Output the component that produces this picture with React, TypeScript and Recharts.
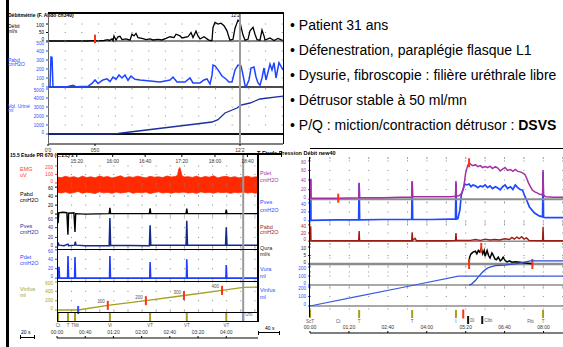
import React from 'react';
import { ComposedChart, Line, Area, Scatter, XAxis, YAxis, CartesianGrid, ReferenceLine } from 'recharts';

type Pt = [number, number | null];

// ---------- débitmétrie (top left), t = record seconds ----------
const flowPts: Pt[] = [
  [0, 0], [40, 0], [44, 2], [50, 1], [56, 3], [60, 8], [61, 2], [64, 12], [65, 2], [66, 30], [68, 5], [70, 25],
  [72, 28], [74, 8], [78, 12], [82, 5], [84, 40], [86, 30], [88, 45], [90, 20], [94, 15], [98, 8], [102, 12],
  [105, 6], [110, 10], [114, 6], [118, 15], [122, 25], [126, 20], [128, 40], [132, 30], [134, 18], [140, 25],
  [143, 50], [145, 20], [148, 58], [150, 30], [152, 12], [156, 25], [160, 8], [162, 3], [164, 2], [165, 80],
  [167, 110], [170, 100], [173, 105], [176, 90], [179, 60], [181, 20], [182, 5], [185, 10], [187, 75], [190, 123],
  [192, 110], [194, 60], [195, 35], [197, 5], [200, 10], [202, 60], [205, 80], [207, 40], [209, 8], [212, 5],
  [214, 65], [216, 30], [217, 5], [222, 18], [226, 3], [230, 15], [235, 2],
];
const topPabdPts: Pt[] = [
  [0, 0], [2, 0], [3, 333], [4, 330], [5, 0], [20, 5], [25, 20], [28, 3], [40, 8], [44, 40], [47, 78], [50, 40],
  [55, 78], [59, 90], [62, 60], [65, 111], [68, 85], [71, 133], [74, 100], [77, 133], [80, 75], [83, 122], [87, 85],
  [92, 78], [102, 67], [112, 55], [122, 78], [125, 111], [129, 55], [137, 55], [142, 100], [145, 45], [152, 45],
  [156, 78], [159, 89], [162, 33], [164, 130], [165, 244], [167, 235], [170, 190], [174, 122], [178, 89], [181, 55],
  [184, 55], [187, 189], [190, 244], [193, 235], [195, 133], [197, 20], [198, 0], [201, 78], [203, 211], [206, 222],
  [208, 111], [210, 45], [212, 20], [214, 100], [216, 211], [218, 78], [222, 255], [224, 190], [226, 270],
  [228, 100], [231, 270], [235, 190],
];
const volPts: Pt[] = [
  [0, 0], [60, 0], [70, 60], [82, 222], [115, 667], [148, 1111], [164, 1333], [170, 1600], [177, 2333],
  [189, 2889], [193, 3222], [202, 3444], [212, 3889], [235, 4200],
];
const topMarks: Pt[] = [[47, 12], [192, 132]];
const topCursor = 192;
const topTimeTicks = [0, 47, 192];
const topTimeLabels = ["0'0", '050', "12'2"];

// ---------- étude PR (bottom left), t = seconds ----------
const emgBand: [number, number, number][] = [
  [0, -110, 70], [6, -118, 62], [12, -105, 78], [18, -122, 66], [24, -112, 74], [30, -100, 58], [36, -120, 80],
  [42, -108, 64], [48, -115, 72], [54, -124, 60], [60, -104, 82], [66, -116, 68], [72, -110, 76], [78, -121, 58],
  [84, -106, 70], [90, -118, 84], [96, -112, 62], [102, -102, 74], [108, -120, 66], [114, -110, 80], [120, -116, 70],
  [126, -106, 60], [132, -124, 78], [138, -112, 68], [144, -104, 72], [150, -118, 64], [156, -110, 82],
  [162, -120, 70], [168, -108, 76], [171, -112, 92], [172.5, -114, 160], [174, -115, 182], [175.5, -110, 150],
  [177, -110, 90], [180, -106, 70], [186, -118, 74], [192, -112, 66], [198, -122, 80], [204, -104, 62],
  [210, -116, 76], [216, -110, 68], [222, -120, 84], [228, -106, 60], [234, -114, 72], [240, -108, 78],
  [246, -122, 64], [252, -110, 74], [258, -116, 60], [264, -104, 70], [270, -118, 80], [276, -112, 66],
  [282, -120, 72], [285, -110, 68],
];
const blPabdPts: Pt[] = [
  [0, 3], [1, 3], [1.5, -20], [2.5, 3], [8, 4], [14, 3], [15.5, -46], [16.5, 2], [24, 3], [25.5, -40], [26.5, 1],
  [40, 0], [74, 1], [75, 14], [76, 1], [131, 1], [132, 13], [133, 1], [183, 1], [184, 12], [185, 1], [239, 1],
  [240, 10], [241, 1], [285, 1],
];
const blPvesPts: Pt[] = [
  [0, 3], [1, 3], [2, 7], [3, 4], [10, 3], [15.5, 6], [16.5, 3], [25, 4], [26, 11], [27, 4], [40, 3], [74, 3],
  [75, 60], [76, 4], [131, 3], [132, 45], [133, 4], [183, 4], [184, 54], [185, 4], [239, 4], [240, 41], [241, 4],
  [285, 4],
];
const blPdetPts: Pt[] = [
  [0, 0], [2, 0], [2.8, 24], [3.6, 0], [15, 0], [15.6, 47], [16.4, 0], [25, 0], [25.5, 45], [26.3, 0], [74.5, 0],
  [75, 47], [75.8, 0], [131.5, 0], [132, 34], [132.8, 0], [183.5, 0], [184, 40], [184.8, 0], [239.5, 0], [240, 28],
  [240.8, 0], [285, 0],
];
const infusPts: Pt[] = [[0, 0], [30, 0], [72, 100], [126, 200], [180, 310], [234, 420], [264, 485], [285, 490]];
const infusMarks: Pt[] = [[72, 100], [126, 200], [180, 310], [234, 420]];
const infusMarkLabels = ['100', '200', '300', '400'];
const infusStart: Pt[] = [[30, 0]];
const blEvents: Pt[] = [[1.5, 0.5], [15.6, 0.5], [25.5, 0.5], [75, 0.5], [132, 0.5], [184, 0.5], [240, 0.5]];
const blEventLabels = ['Ct', 'T', 'TMi', 'Vi', 'VT', 'VT', 'VT'];
const blUro: Pt[] = [[264, 0.5]];
const blCursor = 264;
const blTimeTicks = [0, 40, 80, 120, 160, 200, 240];
const blTimeLabels = ['00:00', '00:40', '01:20', '02:00', '02:40', '03:20', '04:00'];
const blClockTicks = [28, 79, 125, 177, 224, 270];
const blClockLabels = ['15:20', '16:00', '16:40', '17:20', '18:00', '18:40'];

// ---------- pression débit (bottom right), t = seconds ----------
const brPdetPts: Pt[] = [
  [0, 2], [0.5, 40], [1.5, 40], [2, 2], [30, 2], [58, 2], [100, 3], [101, 34], [102, 3], [150, 3], [185, 4],
  [209, 4], [210, 38], [211, 5], [250, 5], [288, 5], [299, 6], [300, 38], [301, 6], [306, 7], [312, 12], [316, 25],
  [320, 55], [324, 70], [327, 76], [331, 72], [335, 70], [340, 72], [345, 68], [350, 70], [355, 66], [360, 68],
  [365, 66], [370, 69], [375, 64], [381, 68], [386, 65], [391, 59], [396, 63], [401, 66], [406, 60], [412, 62],
  [417, 58], [422, 62], [427, 58], [432, 57], [437, 55], [442, 51], [446, 42], [449, 34], [453, 26], [457, 19],
  [462, 15], [467, 13], [472, 10], [478, 9], [479, 61], [480, 9], [484, 5], [500, 4], [520, 4],
];
const brPvesPts: Pt[] = [
  [0, 1], [0.5, 92], [1.5, 92], [2, 1], [50, 2], [100, 2], [101, 84], [102, 2], [150, 3], [209, 3], [210, 87],
  [211, 3], [250, 3], [288, 4], [299, 4], [300, 84], [301, 4], [304, 5], [308, 24], [311, 58], [318, 82], [322, 80],
  [327, 82], [331, 76], [335, 80], [340, 78], [345, 74], [350, 78], [355, 76], [360, 80], [365, 74], [370, 78],
  [375, 72], [381, 76], [386, 73], [391, 69], [396, 76], [401, 80], [406, 72], [412, 76], [417, 70], [422, 80],
  [427, 74], [432, 70], [437, 68], [441, 56], [445, 47], [451, 31], [461, 18], [471, 11], [478, 9], [479, 109],
  [480, 8], [484, 7], [520, 7],
];
const brPabdPts: Pt[] = [
  [0, 1], [0.5, 35], [1.5, 35], [2, 1], [100, 1], [101, 25], [102, 1], [209, 1], [210, 22], [211, 2], [216, 7],
  [219, 1], [280, 1], [299, 2], [300, 20], [301, 2], [330, 2], [340, 4], [350, 2], [360, 5], [370, 3], [380, 4],
  [390, 3], [400, 6], [410, 4], [415, 9], [420, 5], [425, 10], [430, 6], [435, 11], [440, 5], [445, 8], [450, 2],
  [478, 1], [479, 35], [480, 1], [520, 1],
];
const quraPts: Pt[] = [
  [327, 0], [328, 4], [331, 6], [335, 7], [340, 7.5], [343, 6], [346, 8], [349, 7], [352, 9.5], [355, 6], [358, 8],
  [360, 4.5], [364, 8], [367, 5], [370, 3.5], [374, 6.5], [377, 5], [380, 3], [383, 2.5], [387, 4], [391, 1.8],
  [394, 2.5], [397, 4], [401, 2], [405, 1.2], [410, 1.8], [415, 1], [422, 1.3], [432, 1], [442, 0.6], [453, 0.3],
  [457, 0],
];
const vuraPts: Pt[] = [
  [327, 0], [332, 10], [336, 30], [340, 50], [345, 85], [350, 115], [355, 145], [360, 170], [365, 188], [370, 200],
  [381, 215], [401, 222], [422, 235], [440, 255], [453, 267], [520, 267],
];
const vinfPts: Pt[] = [[0, 0], [93, 95], [200, 205], [305, 314], [520, 314]];
const brPdetMarks: Pt[] = [[58, 2], [327, 76]];
const quraMarks: Pt[] = [[327, 0], [352, 9.5], [457, 0]];
const brEvents: Pt[] = [[0, 0.5], [101, 0.5], [210, 0.5], [300, 0.5], [479, 0.5]];
const brEventLabels = ['ScT', 'T', 'T', 'I', 'T'];
const brRed: Pt[] = [[315, 0.5]];
const brBlack: Pt[] = [[325, -0.1], [354, -0.1]];
const brBlackLabels = ['Di', 'Clbt'];
const brTextEvents: Pt[] = [[58, 0.5], [453, 0.5]];
const brTextLabels = ['Ct', 'Fbt'];
const brTimeTicks = [0, 80, 160, 240, 320, 400, 480];
const brTimeLabels = ['00:00', '01:20', '02:40', '04:00', '05:20', '06:40', '08:00'];

const bullets = [
  'Patient 31 ans',
  'Défenestration, paraplégie flasque L1',
  'Dysurie, fibroscopie : filière uréthrale libre',
  'Détrusor stable à 50 ml/mn',
];

const AX = 24;
const toRows = (pts: Pt[], labels?: string[]) => pts.map(([t, v], i) => ({ t, v, lab: labels ? labels[i] : undefined }));

interface MarkSet { pts: Pt[]; color: string; h: number; labels?: string[]; lx?: number; ly?: number; anchor?: 'start' | 'end' | 'middle' }
interface LineSet { pts: Pt[]; color: string; width?: number }
interface TraceProps {
  x: number; y: number; w: number; h: number;
  xd: [number, number]; yd: [number, number];
  ticks?: number[]; tickColor?: string; gap?: number;
  zero?: string; zeroW?: number;
  lines?: LineSet[];
  band?: { pts: [number, number, number][]; color: string };
  marks?: MarkSet[];
  cursor?: number;
}

const markShape = (m: MarkSet) => (p: any) => (
  <g>
    {m.h > 0 ? <rect x={p.cx - 1} y={p.cy - m.h / 2} width={2} height={m.h} fill={m.color} /> : null}
    {p.payload && p.payload.lab ? (
      <text x={p.cx + (m.lx ?? 0)} y={p.cy + (m.ly ?? 0)} fontSize={4.5} fill="#555" textAnchor={m.anchor ?? 'middle'}>
        {p.payload.lab}
      </text>
    ) : null}
  </g>
);

// tick labels at the panel edges are nudged inwards, as the recorder prints them
const edgeTick = (color: string, ticks: number[]) => (p: any) => {
  const v = p.payload.value;
  const dy = v === ticks[0] ? -1.5 : v === ticks[ticks.length - 1] ? 1.5 : 0;
  return (
    <text x={p.x} y={p.y + dy} dy="0.35em" textAnchor="end" fontSize={4.6} fill={color}>
      {v}
    </text>
  );
};

function Trace(p: TraceProps) {
  const ax = p.ticks ? AX : 0;
  const edge = [{ t: p.xd[0], v: p.yd[0] }, { t: p.xd[1], v: p.yd[1] }];
  return (
    <div style={{ position: 'absolute', left: p.x - ax, top: p.y }}>
      <ComposedChart width={p.w + ax} height={p.h} margin={{ top: 0, right: 0, bottom: 0, left: 0 }}>
        <XAxis type="number" dataKey="t" domain={p.xd} hide />
        <YAxis
          type="number"
          domain={p.yd}
          hide={!p.ticks}
          width={ax}
          ticks={p.ticks}
          interval={0}
          axisLine={false}
          tickSize={2}
          tickLine={{ stroke: p.tickColor }}
          tick={p.ticks ? edgeTick(p.tickColor ?? '#000', p.ticks) : false}
        />
        {p.gap && p.ticks ? <CartesianGrid vertical={false} stroke="#888" strokeDasharray={`1 ${p.gap - 1}`} /> : null}
        {p.zero ? <ReferenceLine y={0} stroke={p.zero} strokeWidth={p.zeroW ?? 1} /> : null}
        {p.cursor !== undefined ? <ReferenceLine x={p.cursor} stroke="#9a9a9a" strokeWidth={2} /> : null}
        <Line data={edge} dataKey="v" stroke="none" dot={false} isAnimationActive={false} />
        {p.band ? (
          <Area
            data={p.band.pts.map(([t, lo, hi]) => ({ t, r: [lo, hi] }))}
            dataKey="r"
            stroke={p.band.color}
            strokeWidth={0.8}
            fill={p.band.color}
            fillOpacity={1}
            isAnimationActive={false}
          />
        ) : null}
        {(p.lines ?? []).map((l, i) => (
          <Line key={`l${i}`} data={toRows(l.pts)} dataKey="v" stroke={l.color} strokeWidth={l.width ?? 1.3}
            dot={false} isAnimationActive={false} />
        ))}
        {(p.marks ?? []).map((m, i) => (
          <Scatter key={`m${i}`} data={toRows(m.pts, m.labels)} dataKey="v" shape={markShape(m)} isAnimationActive={false} />
        ))}
      </ComposedChart>
    </div>
  );
}

function TimeAxis({ x, y, w, xd, ticks, labels, top, line = true }: {
  x: number; y: number; w: number; xd: [number, number]; ticks: number[]; labels: string[]; top?: boolean; line?: boolean;
}) {
  const bandH = 9;
  const rows = ticks.map((t) => ({ t, v: 0 }));
  return (
    <div style={{ position: 'absolute', left: x, top: top ? y - bandH : y - 1 }}>
      <ComposedChart width={w} height={bandH + 1} margin={{ top: 0, right: 0, bottom: 0, left: 0 }}>
        <XAxis
          type="number"
          dataKey="t"
          domain={xd}
          ticks={ticks}
          interval={0}
          orientation={top ? 'top' : 'bottom'}
          height={bandH}
          axisLine={line ? { stroke: '#000', strokeWidth: 1.2 } : false}
          tickLine={{ stroke: '#000' }}
          tickSize={2}
          tick={{ fontSize: 5, fill: '#333' }}
          tickFormatter={(v: number) => labels[ticks.indexOf(v)] ?? ''}
        />
        <YAxis hide domain={[0, 1]} />
        <Line data={rows} dataKey="v" stroke="none" dot={false} isAnimationActive={false} />
      </ComposedChart>
    </div>
  );
}

const Txt = ({ x, y, c = '#000', s = 5, b = false, children }: any) => (
  <div style={{ position: 'absolute', left: x, top: y, color: c, fontSize: s, lineHeight: `${s}px`, fontWeight: b ? 700 : 400, whiteSpace: 'nowrap' }}>
    {children}
  </div>
);
const Label2 = ({ x, y, c, s = 5, gap = 5.5, a, b }: any) => (
  <>
    <Txt x={x} y={y} c={c} s={s}>{a}</Txt>
    <Txt x={x} y={y + gap} c={c} s={s}>{b}</Txt>
  </>
);
const Rule = ({ x, y, w, h, c = '#000' }: any) => (
  <div style={{ position: 'absolute', left: x, top: y, width: w, height: h, background: c }} />
);

const BLUE = '#2d4bff';
const TOP_X: [number, number] = [0, 235];
const BL_X: [number, number] = [0, 285];
const BR_X: [number, number] = [0, 520];

export default function App() {
  return (
    <div style={{ position: 'relative', width: 563, height: 347, overflow: 'hidden', background: '#fff', fontFamily: '"Liberation Sans", Arial, sans-serif' }}>
      <style>{'body{margin:0} .recharts-surface{overflow:visible}'}</style>

      <Rule x={6} y={0} w={2.5} h={347} />

      {/* débitmétrie */}
      <Txt x={8} y={12.5} b>Débitmétrie (F. Abdo ch340)</Txt>
      <Label2 x={8} y={24.2} c="#000" gap={5} a="Débit" b="ml/s" />
      <Label2 x={8} y={57.5} c={BLUE} gap={4.5} a="Pabd" b="cmH2O" />
      <Label2 x={8} y={103.5} c={BLUE} gap={4.5} a="Vol. Uriné" b="ml" />
      <Rule x={47.5} y={13} w={1} h={130} c="#666" />
      <Trace x={48} y={13} w={235} h={28} xd={TOP_X} yd={[0, 165]} ticks={[0, 50, 100]} tickColor="#000" gap={16.7}
        zero="#888" zeroW={2} lines={[{ pts: flowPts, color: '#000', width: 1.3 }]}
        marks={[{ pts: topMarks, color: '#ff3311', h: 8.5 }]} />
      <Trace x={48} y={41} w={235} h={46} xd={TOP_X} yd={[0, 511]} ticks={[0, 100, 200, 300, 400, 500]} tickColor={BLUE}
        gap={16.7} zero="#111" zeroW={1.5} lines={[{ pts: topPabdPts, color: '#1f44ff', width: 1.5 }]} />
      <Trace x={48} y={88} w={235} h={46} xd={TOP_X} yd={[0, 5111]} ticks={[0, 1000, 2000, 3000, 4000, 5000]} tickColor={BLUE}
        gap={16.7} zero="#111" zeroW={2} lines={[{ pts: volPts, color: '#1d2f9e', width: 1.3 }]} />
      <Trace x={48} y={13} w={235} h={130} xd={TOP_X} yd={[0, 1]} cursor={topCursor} />
      <Txt x={231} y={13.5} s={4.5}>12:2</Txt>
      <Rule x={48} y={12} w={236} h={2} />
      <Rule x={282.5} y={12} w={1.5} h={132} />
      <TimeAxis x={48} y={143.5} w={235} xd={TOP_X} ticks={topTimeTicks} labels={topTimeLabels} />

      {/* texte */}
      {bullets.map((b, i) => (
        <div key={b} style={{ position: 'absolute', left: 290, top: 18.2 + i * 25, fontSize: 14, lineHeight: '14px', whiteSpace: 'nowrap', color: '#000' }}>
          • {b}
        </div>
      ))}
      <div style={{ position: 'absolute', left: 290, top: 118.2, fontSize: 14, lineHeight: '14px', whiteSpace: 'nowrap', color: '#000' }}>
        • P/Q : miction/contraction détrusor : <b>DSVS</b>
      </div>
      <Rule x={310} y={147.5} w={253} h={1} />

      {/* étude PR */}
      <Txt x={10} y={152.5} b>15.5 Etude PR 670 (C.1.c) 2</Txt>
      <Label2 x={20} y={167.2} c="#ff3b1f" s={5.5} a="EMG" b="uV" />
      <Label2 x={20} y={192.2} c="#000" s={5.5} a="Pabd" b="cmH2O" />
      <Label2 x={20} y={224.2} c="#1c2f9e" s={5.5} a="Pves" b="cmH2O" />
      <Label2 x={20} y={255.2} c={BLUE} s={5.5} a="Pdet" b="cmH2O" />
      <Label2 x={20} y={287.2} c="#a3a12b" s={5.5} a="Vinfus" b="ml" />
      <Trace x={57} y={154} w={201} h={42} xd={BL_X} yd={[-153, 341]} ticks={[0, 100, 200]} tickColor="#ff3b1f" gap={14.1}
        band={{ pts: emgBand, color: '#ff2a00' }} />
      <Trace x={57} y={184} w={201} h={62} xd={BL_X} yd={[-71, 67]} ticks={[0, 20, 40, 60]} tickColor="#000" gap={14.1}
        lines={[{ pts: blPabdPts, color: '#000', width: 1.4 }]} />
      <Trace x={57} y={216} w={201} h={34} xd={BL_X} yd={[-6, 64]} ticks={[0, 20, 40, 60]} tickColor="#1c2f9e" gap={14.1}
        lines={[{ pts: blPvesPts, color: '#14288c', width: 1.5 }]} />
      <Trace x={57} y={248} w={201} h={32} xd={BL_X} yd={[-4, 64]} ticks={[0, 20, 40, 60]} tickColor={BLUE} gap={14.1}
        lines={[{ pts: blPdetPts, color: '#1f3dff', width: 1.6 }]} />
      <Trace x={57} y={281} w={201} h={30} xd={BL_X} yd={[-21, 621]} ticks={[0, 200, 400, 600]} tickColor="#a3a12b" gap={14.1}
        lines={[{ pts: infusPts, color: '#a3a020', width: 1.4 }]}
        marks={[
          { pts: infusMarks, color: '#ff3311', h: 9, labels: infusMarkLabels, lx: -3, ly: -2, anchor: 'end' },
          { pts: infusStart, color: '#2d4bff', h: 8 },
        ]} />
      <Trace x={57} y={312} w={201} h={10} xd={BL_X} yd={[0, 1]}
        marks={[
          { pts: blEvents, color: '#a3a020', h: 9, labels: blEventLabels, ly: 9.5 },
          { pts: blUro, color: '#2d4bff', h: 9, labels: ['Uro'], lx: 2, ly: -1, anchor: 'start' },
        ]} />
      <Trace x={57} y={154} w={201} h={167} xd={BL_X} yd={[0, 1]} cursor={blCursor} />
      <Rule x={57} y={249} w={201} h={1} />
      <Rule x={57} y={281} w={201} h={1} />
      <Rule x={57} y={311.5} w={201} h={1} />
      <Rule x={57} y={153} w={225} h={2} />
      <Rule x={281} y={151} w={1} h={6} />
      <Rule x={56.5} y={153} w={1.5} h={169} />
      <Rule x={256.5} y={153} w={2} h={169} />
      <Rule x={57} y={320.5} w={201} h={1.5} />
      <TimeAxis x={57} y={155} w={201} xd={BL_X} ticks={blClockTicks} labels={blClockLabels} line={false} />
      <TimeAxis x={57} y={338} w={201} xd={BL_X} ticks={blTimeTicks} labels={blTimeLabels} top />
      <Txt x={21} y={329.5}>20 s</Txt>
      <Rule x={20} y={336.5} w={15} h={1} />
      <Rule x={20} y={335} w={1} h={4} />
      <Rule x={34} y={335} w={1} h={4} />

      {/* pression débit */}
      <Txt x={257} y={150.5} s={5.5} b>T-Etude Pression Débit new40</Txt>
      <Label2 x={260} y={171.2} c="#a23ba2" s={5.5} gap={7} a="Pdet" b="cmH2O" />
      <Label2 x={260} y={200.2} c={BLUE} s={5.5} gap={7.5} a="Pves" b="cmH2O" />
      <Label2 x={260} y={224.5} c="#a0281c" s={5.5} gap={5.5} a="Pabd" b="cmH2O" />
      <Label2 x={260} y={245.5} c="#222" s={5.5} gap={6} a="Qura" b="ml/s" />
      <Label2 x={260} y={266.5} c={BLUE} s={5.5} gap={7} a="Vura" b="ml" />
      <Label2 x={260} y={287.5} c={BLUE} s={5.5} gap={7} a="Vinfus" b="ml" />
      <Trace x={310} y={158} w={253} h={66} xd={BR_X} yd={[-7, 140]} ticks={[0, 20, 40]} tickColor={BLUE} gap={19.4}
        lines={[{ pts: brPvesPts, color: '#1f49ff', width: 1.7 }]} />
      <Trace x={310} y={158} w={253} h={44} xd={BR_X} yd={[-6, 86]} ticks={[0, 20, 40, 60, 80]} tickColor="#a23ba2" gap={19.4}
        zero="#8c8c8c" zeroW={2} lines={[{ pts: brPdetPts, color: '#a52fa5', width: 1.5 }]}
        marks={[{ pts: brPdetMarks, color: '#ff3311', h: 9 }]} />
      <Trace x={310} y={222} w={253} h={22} xd={BR_X} yd={[-7, 47]} ticks={[0, 20, 40]} tickColor="#a0281c" gap={19.4}
        zero="#8c8c8c" zeroW={1.5} lines={[{ pts: brPabdPts, color: '#9b1c10', width: 1.4 }]} />
      <Trace x={310} y={244} w={253} h={22} xd={BR_X} yd={[-1.2, 11.8]} ticks={[0, 5, 10]} tickColor="#222" gap={19.4}
        zero="#8c8c8c" zeroW={2.5} lines={[{ pts: quraPts, color: '#000', width: 1.5 }]}
        marks={[{ pts: quraMarks, color: '#ff3311', h: 10 }]} />
      <Trace x={310} y={258} w={253} h={30} xd={BR_X} yd={[-33, 300]} ticks={[0, 100, 200]} tickColor={BLUE} gap={19.4}
        zero="#8c8c8c" zeroW={1.5} lines={[{ pts: vuraPts, color: '#2b4ad8', width: 1.3 }]} />
      <Trace x={310} y={272} w={253} h={37} xd={BR_X} yd={[-32, 358]} ticks={[0, 100, 200]} tickColor={BLUE} gap={19.4}
        zero="#8c8c8c" zeroW={1.5} lines={[{ pts: vinfPts, color: '#3a5ae0', width: 1.2 }]} />
      <Trace x={310} y={309} w={253} h={20} xd={BR_X} yd={[-1, 1]}
        marks={[
          { pts: brEvents, color: '#a3a020', h: 8, labels: brEventLabels, ly: 9 },
          { pts: brRed, color: '#ff3311', h: 9 },
          { pts: brBlack, color: '#111', h: 8, labels: brBlackLabels, lx: 2, ly: 1.5, anchor: 'start' },
          { pts: brTextEvents, color: '#000', h: 0, labels: brTextLabels, ly: 9 },
        ]} />
      <Rule x={308.5} y={157} w={1.5} h={160} />
      <TimeAxis x={310} y={333} w={253} xd={BR_X} ticks={brTimeTicks} labels={brTimeLabels} top />
      <Txt x={265} y={326}>40 s</Txt>
      <Rule x={258} y={332} w={22} h={1} />
      <Rule x={258} y={330.5} w={1} h={4} />
      <Rule x={279} y={330.5} w={1} h={4} />
    </div>
  );
}
